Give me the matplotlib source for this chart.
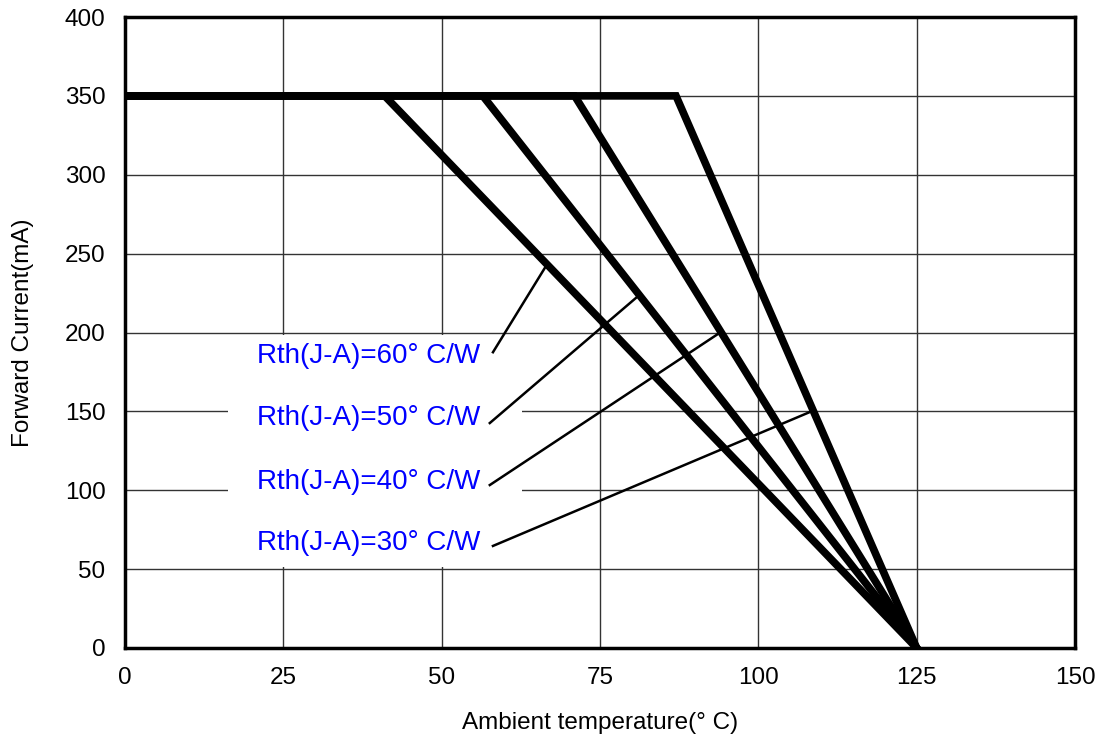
import numpy as np
import matplotlib
matplotlib.use("Agg")
import matplotlib.pyplot as plt
from matplotlib.patches import Rectangle

plt.rcParams['font.family'] = ['Liberation Sans', 'DejaVu Sans']

# derating curves: flat at I_max up to the knee, then linear down to T_end
rth = [60, 50, 40, 30]
knee_temp = [41, 56.5, 71, 87]
i_max = 350
t_end = 125

# leader lines: (text anchor) -> (point on curve)
label_text = ["Rth(J-A)=%d° C/W" % r for r in rth]
label_x = [20.8, 20.8, 20.8, 20.8]
label_y = [185, 145.5, 105.5, 66.5]
lead_from = [(58.1, 187.5), (57.6, 142.6), (57.6, 103.3), (58.1, 64.7)]
lead_to = [(66.3, 241), (80.7, 222), (93.6, 199), (108.5, 150.2)]

xticks = [0, 25, 50, 75, 100, 125, 150]
yticks = [0, 50, 100, 150, 200, 250, 300, 350, 400]

fig = plt.figure(figsize=(10.96, 7.40), dpi=100)
ax = fig.add_axes([125/1096, 1-648/740, 950/1096, 631/740])

ax.set_xlim(0, 150)
ax.set_ylim(0, 400)
ax.set_xticks(xticks)
ax.set_yticks(yticks)
ax.grid(True, color='#333333', lw=1.0, zorder=0)
ax.set_axisbelow(True)

# white block behind the labels hides the grid
ax.add_patch(Rectangle((16.3, 51.5), 46.4, 147, facecolor='white',
                       edgecolor='none', zorder=1))

for k in knee_temp:
    ax.plot([0, k, t_end], [i_max, i_max, 0], color='black', lw=5.5,
            solid_joinstyle='miter', zorder=3)

for txt, x, y, p0, p1 in zip(label_text, label_x, label_y, lead_from, lead_to):
    ax.text(x, y, txt, color='#0000ff', fontsize=20, va='center', ha='left',
            zorder=4)
    ax.plot([p0[0], p1[0]], [p0[1], p1[1]], color='black', lw=1.8, zorder=4)

for s in ax.spines.values():
    s.set_linewidth(2.5)
ax.tick_params(length=0, labelsize=17.5, pad=14)
ax.set_xlabel("Ambient temperature(° C)", fontsize=17.5, labelpad=16)
ax.set_ylabel("Forward Current(mA)", fontsize=17.5, labelpad=22)

fig.savefig("out.png", dpi=100)
